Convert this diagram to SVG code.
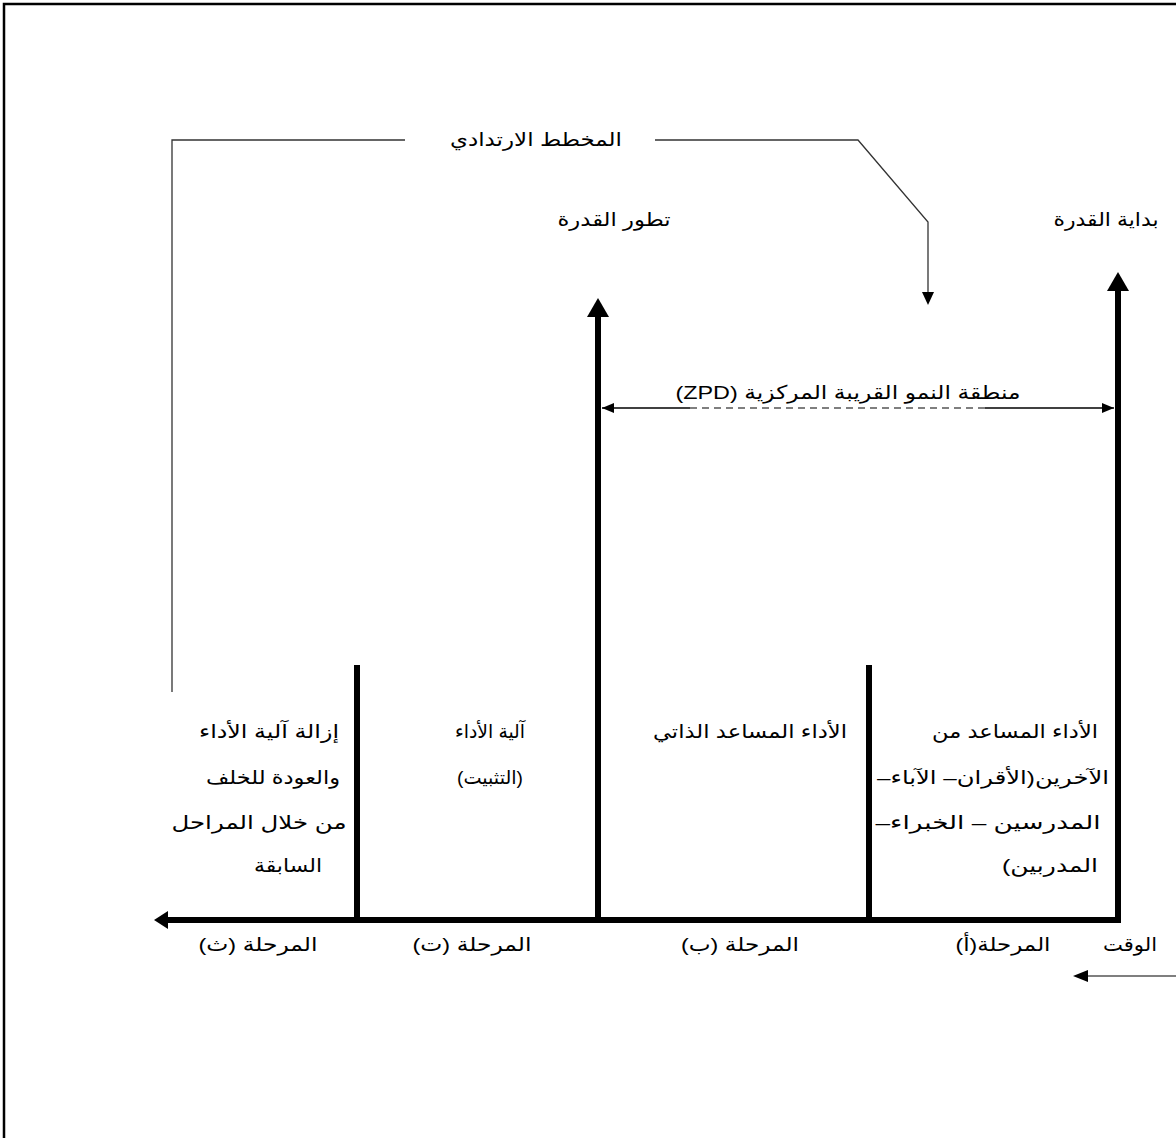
<svg xmlns="http://www.w3.org/2000/svg" width="1176" height="1138" viewBox="0 0 1176 1138">
<style>
  .t { font-family: "Liberation Sans", "DejaVu Sans", sans-serif; font-size: 19px; fill: #000; text-anchor: middle; direction: rtl; unicode-bidi: embed; }
  .thick { stroke: #000; stroke-width: 6; fill: none; }
  .thin { stroke: #333; stroke-width: 1.3; fill: none; }
  .frame { stroke: #000; stroke-width: 2.5; fill: none; }
  .head { fill: #000; }
</style>
<defs>
  <marker id="sm" markerWidth="12" markerHeight="10" refX="12" refY="5" orient="auto-start-reverse" markerUnits="userSpaceOnUse">
    <path d="M0,0 L12,5 L0,10 Z" fill="#000"/>
  </marker>
</defs>
<rect width="1176" height="1138" fill="#fff"/>
<g id="frame">
  <polyline class="frame" points="4,1138 4,4 1176,4"/>
</g>
<g id="connectors">
  <line class="thick" x1="1121" y1="920" x2="166" y2="920"/>
  <polygon class="head" points="154,920 168,911 168,929"/>
  <line class="thick" x1="1118" y1="923" x2="1118" y2="288"/>
  <polygon class="head" points="1118,272 1107,291 1129,291"/>
  <line class="thick" x1="598" y1="923" x2="598" y2="314"/>
  <polygon class="head" points="598,298 587,317 609,317"/>
  <line class="thick" x1="357" y1="665" x2="357" y2="920"/>
  <line class="thick" x1="869" y1="665" x2="869" y2="920"/>
  <line stroke="#000" stroke-width="1.3" x1="602" y1="408" x2="690" y2="408" marker-start="url(#sm)"/>
  <line stroke="#555" stroke-width="1.3" stroke-dasharray="7,5" x1="690" y1="408" x2="985" y2="408"/>
  <line stroke="#000" stroke-width="1.3" x1="985" y1="408" x2="1114" y2="408" marker-end="url(#sm)"/>
  <polyline class="thin" points="172,692 172,140 405,140"/>
  <polyline class="thin" points="655,140 858,140 928,222 928,293"/>
  <polygon class="head" points="928,305 922,292 934,292"/>
  <line stroke="#555" stroke-width="1.5" x1="1176" y1="976" x2="1086" y2="976"/>
  <polygon class="head" points="1073,976 1088,970 1088,982"/>
</g>
<g id="scaffold-label"><text class="t" x="536" y="146" textLength="172" lengthAdjust="spacingAndGlyphs">المخطط الارتدادي</text></g>
<g id="ability-development"><text class="t" x="614" y="226" textLength="113" lengthAdjust="spacingAndGlyphs">تطور القدرة</text></g>
<g id="ability-start"><text class="t" x="1106" y="226" textLength="105" lengthAdjust="spacingAndGlyphs">بداية القدرة</text></g>
<g id="zpd-label"><text class="t" x="848" y="399" textLength="345" lengthAdjust="spacingAndGlyphs">منطقة النمو القريبة المركزية (ZPD)</text></g>
<g id="stage-a-text">
  <text class="t" x="1015" y="738" textLength="166" lengthAdjust="spacingAndGlyphs">الأداء المساعد من</text>
  <text class="t" x="993" y="784" textLength="232" lengthAdjust="spacingAndGlyphs">الآخرين(الأقران– الآباء–</text>
  <text class="t" x="988" y="829" textLength="225" lengthAdjust="spacingAndGlyphs">المدرسين – الخبراء–</text>
  <text class="t" x="1050" y="872" textLength="96" lengthAdjust="spacingAndGlyphs">المدربين)</text>
</g>
<g id="stage-b-text"><text class="t" x="750" y="738" textLength="194" lengthAdjust="spacingAndGlyphs">الأداء المساعد الذاتي</text></g>
<g id="stage-t-text">
  <text class="t" x="490" y="738" textLength="70" lengthAdjust="spacingAndGlyphs">آلية الأداء</text>
  <text class="t" x="490" y="784" textLength="66" lengthAdjust="spacingAndGlyphs">(التثبيت)</text>
</g>
<g id="stage-th-text">
  <text class="t" x="269" y="738" textLength="140" lengthAdjust="spacingAndGlyphs">إزالة آلية الأداء</text>
  <text class="t" x="273" y="784" textLength="134" lengthAdjust="spacingAndGlyphs">والعودة للخلف</text>
  <text class="t" x="259" y="829" textLength="175" lengthAdjust="spacingAndGlyphs">من خلال المراحل</text>
  <text class="t" x="288" y="872" textLength="68" lengthAdjust="spacingAndGlyphs">السابقة</text>
</g>
<g id="axis-labels">
  <text class="t" x="258" y="951" textLength="119" lengthAdjust="spacingAndGlyphs">المرحلة (ث)</text>
  <text class="t" x="472" y="951" textLength="119" lengthAdjust="spacingAndGlyphs">المرحلة (ت)</text>
  <text class="t" x="740" y="951" textLength="118" lengthAdjust="spacingAndGlyphs">المرحلة (ب)</text>
  <text class="t" x="1003" y="951" textLength="95" lengthAdjust="spacingAndGlyphs">المرحلة(أ)</text>
  <text class="t" x="1130" y="951" textLength="54" lengthAdjust="spacingAndGlyphs">الوقت</text>
</g>
</svg>
